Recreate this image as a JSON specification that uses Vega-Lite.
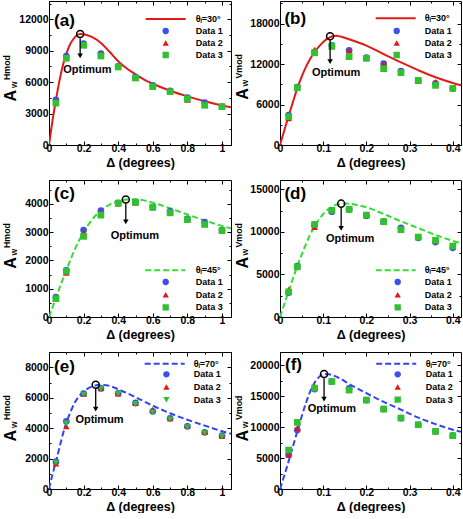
{
"$schema":"https://vega.github.io/schema/vega-lite/v6.json",
"padding":{"left":1,"top":0,"right":0,"bottom":0},
"columns":2,
"bounds":"flush",
"spacing":{"row":35,"column":49},
"resolve":{"scale":{"x":"independent","y":"independent","color":"independent","shape":"independent"},"legend":{"color":"independent","shape":"independent"}},
"config":{
 "font":"Liberation Sans",
 "view":{"stroke":"black","strokeWidth":1},
 "axis":{"grid":false,"domainColor":"black","tickColor":"black","labelColor":"black","titleColor":"black","labelFont":"Liberation Sans","titleFont":"Liberation Sans","labelFontSize":10.5,"labelFontWeight":"bold","titleFontWeight":"bold","tickSize":-4,"labelFlush":false,"labelOverlap":false},
 "axisX":{"titleFontSize":12.5,"titlePadding":2,"labelPadding":2.5},
 "axisY":{"labelPadding":5,"titleAngle":270,"titleAlign":"left","titleBaseline":"alphabetic"},
 "legend":{"labelFont":"Liberation Sans","labelColor":"black","padding":0,"title":null,"labelFontSize":9,"labelFontWeight":"bold","clipHeight":9},
 "text":{"font":"Liberation Sans"}
},
"concat":[
{
 "width":182,"height":144,
 "encoding":{"x":{"field":"x","type":"quantitative","scale":{"domain":[0,1.052],"nice":false,"zero":false},"axis":null}},
 "layer":[
  {"data":{"values":[{"x":0,"y":0,"c":"θᵢ=30°"},{"x":0.02,"y":2300,"c":"θᵢ=30°"},{"x":0.04,"y":4300,"c":"θᵢ=30°"},{"x":0.06,"y":6100,"c":"θᵢ=30°"},{"x":0.08,"y":7600,"c":"θᵢ=30°"},{"x":0.1,"y":8700,"c":"θᵢ=30°"},{"x":0.12,"y":9550,"c":"θᵢ=30°"},{"x":0.14,"y":10100,"c":"θᵢ=30°"},{"x":0.16,"y":10450,"c":"θᵢ=30°"},{"x":0.18,"y":10600,"c":"θᵢ=30°"},{"x":0.2,"y":10580,"c":"θᵢ=30°"},{"x":0.25,"y":10300,"c":"θᵢ=30°"},{"x":0.3,"y":9750,"c":"θᵢ=30°"},{"x":0.35,"y":8900,"c":"θᵢ=30°"},{"x":0.4,"y":8000,"c":"θᵢ=30°"},{"x":0.45,"y":7300,"c":"θᵢ=30°"},{"x":0.5,"y":6750,"c":"θᵢ=30°"},{"x":0.55,"y":6250,"c":"θᵢ=30°"},{"x":0.6,"y":5850,"c":"θᵢ=30°"},{"x":0.7,"y":5180,"c":"θᵢ=30°"},{"x":0.8,"y":4640,"c":"θᵢ=30°"},{"x":0.9,"y":4180,"c":"θᵢ=30°"},{"x":1.0,"y":3780,"c":"θᵢ=30°"},{"x":1.052,"y":3600,"c":"θᵢ=30°"}]},
   "mark":{"type":"line","strokeWidth":2,"interpolate":"monotone","clip":true},
   "encoding":{
    "x":{"field":"x","type":"quantitative","scale":{"domain":[0,1.052],"nice":false,"zero":false},"axis":{"orient":"bottom","title":"Δ (degrees)","values":[0,0.2,0.4,0.6,0.8,1],"format":"~g"}},
    "y":{"field":"y","type":"quantitative","scale":{"domain":[0,13750],"nice":false},"axis":{"orient":"left","title":"A","values":[0,3000,6000,9000,12000],"format":"d","titleFontSize":16,"titleX":-34,"titleY":100}},
    "color":{"field":"c","type":"nominal","scale":{"range":["#e31a1a"]},"legend":{"orient":"none","legendX":95.7,"legendY":13.5,"symbolType":"stroke","symbolSize":1600,"symbolStrokeWidth":2,"labelOffset":9}}}},
  {"data":{"values":[
   {"x":0.04,"y":4300,"s":"Data 1"},{"x":0.1,"y":8500,"s":"Data 1"},{"x":0.2,"y":9680,"s":"Data 1"},{"x":0.3,"y":8720,"s":"Data 1"},{"x":0.4,"y":7510,"s":"Data 1"},{"x":0.5,"y":6490,"s":"Data 1"},{"x":0.6,"y":5700,"s":"Data 1"},{"x":0.7,"y":5160,"s":"Data 1"},{"x":0.8,"y":4520,"s":"Data 1"},{"x":0.9,"y":4040,"s":"Data 1"},{"x":1.0,"y":3660,"s":"Data 1"},
   {"x":0.04,"y":4200,"s":"Data 2"},{"x":0.1,"y":8400,"s":"Data 2"},{"x":0.2,"y":9600,"s":"Data 2"},{"x":0.3,"y":8600,"s":"Data 2"},{"x":0.4,"y":7450,"s":"Data 2"},{"x":0.5,"y":6400,"s":"Data 2"},{"x":0.6,"y":5650,"s":"Data 2"},{"x":0.7,"y":5100,"s":"Data 2"},{"x":0.8,"y":4300,"s":"Data 2"},{"x":0.9,"y":3950,"s":"Data 2"},{"x":1.0,"y":3650,"s":"Data 2"},
   {"x":0.04,"y":4000,"s":"Data 3"},{"x":0.1,"y":8280,"s":"Data 3"},{"x":0.2,"y":9520,"s":"Data 3"},{"x":0.3,"y":8500,"s":"Data 3"},{"x":0.4,"y":7450,"s":"Data 3"},{"x":0.5,"y":6400,"s":"Data 3"},{"x":0.6,"y":5570,"s":"Data 3"},{"x":0.7,"y":5090,"s":"Data 3"},{"x":0.8,"y":4420,"s":"Data 3"},{"x":0.9,"y":3790,"s":"Data 3"},{"x":1.0,"y":3660,"s":"Data 3"}]},
   "mark":{"type":"point","filled":true,"size":45,"opacity":1},
   "encoding":{
    "y":{"field":"y","type":"quantitative","scale":{"domain":[0,13750],"nice":false},"axis":{"orient":"left","title":"w","labels":false,"ticks":false,"domain":false,"titleFontSize":8.5,"titleX":-33,"titleY":86.5}},
    "color":{"field":"s","type":"nominal","scale":{"domain":["Data 1","Data 2","Data 3"],"range":["#3c50f0","#dd1a1a","#30c030"]},"legend":{"orient":"none","legendX":112.2,"legendY":25.5,"symbolSize":40,"symbolStrokeWidth":0,"labelOffset":25.5,"rowPadding":2}},
    "shape":{"field":"s","type":"nominal","scale":{"domain":["Data 1","Data 2","Data 3"],"range":["circle","triangle-up","square"]},"legend":{"orient":"none","legendX":112.2,"legendY":25.5,"symbolSize":40,"symbolStrokeWidth":0,"labelOffset":25.5,"rowPadding":2}}}},
  {"data":{"values":[{"x":0.18,"y":10600}]},"mark":{"type":"point","shape":"circle","filled":false,"stroke":"black","strokeWidth":1.5,"size":50,"opacity":1},
   "encoding":{"y":{"field":"y","type":"quantitative","scale":{"domain":[0,13750],"nice":false},"axis":{"orient":"left","title":"Hmod","labels":false,"ticks":false,"domain":false,"titleFontSize":8.8,"titleX":-40,"titleY":78.5}}}},
  {"data":{"values":[{"x":0.18,"y":10200,"y2":8500}]},"mark":{"type":"rule","stroke":"black","strokeWidth":1.3},
   "encoding":{
    "x":{"field":"x","type":"quantitative","scale":{"domain":[0,1.052],"nice":false,"zero":false},"axis":{"orient":"bottom","values":[0.1,0.3,0.5,0.7,0.9],"labels":false,"title":null,"domain":false,"tickSize":-2}},
    "y":{"field":"y","type":"quantitative","scale":{"domain":[0,13750],"nice":false},"axis":{"orient":"right","values":[0,3000,6000,9000,12000],"labels":false,"title":null,"domain":false,"tickSize":-4}},"y2":{"field":"y2"}}},
  {"data":{"values":[{"x":0.18,"y":8500}]},"mark":{"type":"point","shape":"triangle-down","filled":true,"color":"black","size":30,"opacity":1},
   "encoding":{
    "x":{"field":"x","type":"quantitative","scale":{"domain":[0,1.052],"nice":false,"zero":false},"axis":{"orient":"top","values":[0,0.2,0.4,0.6,0.8,1],"labels":false,"title":null,"domain":false,"tickSize":-4}},
    "y":{"field":"y","type":"quantitative","scale":{"domain":[0,13750],"nice":false},"axis":{"orient":"right","values":[1500,4500,7500,10500,13500],"labels":false,"title":null,"domain":false,"tickSize":-2}}}},
  {"data":{"values":[{"x":0.222,"y":7160,"t":"Optimum"}]},"mark":{"type":"text","fontWeight":"bold","fontSize":11,"baseline":"middle"},
   "encoding":{
    "x":{"field":"x","type":"quantitative","scale":{"domain":[0,1.052],"nice":false,"zero":false},"axis":{"orient":"top","values":[0.1,0.3,0.5,0.7,0.9],"labels":false,"title":null,"domain":false,"tickSize":-2}},
    "y":{"field":"y","type":"quantitative","scale":{"domain":[0,13750],"nice":false},"axis":{"orient":"left","values":[1500,4500,7500,10500,13500],"labels":false,"title":null,"domain":false,"tickSize":-2}},"text":{"field":"t"}}},
  {"data":{"values":[{"x":0.029,"y":11840,"t":"(a)"}]},"mark":{"type":"text","fontWeight":"bold","fontSize":17,"align":"left","baseline":"middle"},"encoding":{"y":{"field":"y","type":"quantitative","scale":{"domain":[0,13750],"nice":false},"axis":null},"text":{"field":"t"}}}
 ],
 "resolve":{"scale":{"color":"independent","shape":"independent"},"axis":{"x":"independent","y":"independent"}}
},
{
 "width":181,"height":144,
 "encoding":{"x":{"field":"x","type":"quantitative","scale":{"domain":[0,0.419],"nice":false,"zero":false},"axis":null}},
 "layer":[
  {"data":{"values":[{"x":0,"y":0,"c":"θᵢ=30°"},{"x":0.01,"y":2200,"c":"θᵢ=30°"},{"x":0.02,"y":4300,"c":"θᵢ=30°"},{"x":0.03,"y":6400,"c":"θᵢ=30°"},{"x":0.04,"y":8400,"c":"θᵢ=30°"},{"x":0.05,"y":10100,"c":"θᵢ=30°"},{"x":0.06,"y":11600,"c":"θᵢ=30°"},{"x":0.07,"y":12800,"c":"θᵢ=30°"},{"x":0.08,"y":13800,"c":"θᵢ=30°"},{"x":0.09,"y":14600,"c":"θᵢ=30°"},{"x":0.1,"y":15300,"c":"θᵢ=30°"},{"x":0.11,"y":15800,"c":"θᵢ=30°"},{"x":0.12,"y":16100,"c":"θᵢ=30°"},{"x":0.13,"y":16200,"c":"θᵢ=30°"},{"x":0.14,"y":16100,"c":"θᵢ=30°"},{"x":0.16,"y":15700,"c":"θᵢ=30°"},{"x":0.18,"y":15250,"c":"θᵢ=30°"},{"x":0.2,"y":14750,"c":"θᵢ=30°"},{"x":0.24,"y":13500,"c":"θᵢ=30°"},{"x":0.28,"y":12250,"c":"θᵢ=30°"},{"x":0.32,"y":11100,"c":"θᵢ=30°"},{"x":0.36,"y":10050,"c":"θᵢ=30°"},{"x":0.4,"y":9200,"c":"θᵢ=30°"},{"x":0.419,"y":8850,"c":"θᵢ=30°"}]},
   "mark":{"type":"line","strokeWidth":2,"interpolate":"monotone","clip":true},
   "encoding":{
    "x":{"field":"x","type":"quantitative","scale":{"domain":[0,0.419],"nice":false,"zero":false},"axis":{"orient":"bottom","title":"Δ (degrees)","values":[0,0.1,0.2,0.3,0.4],"format":"~g"}},
    "y":{"field":"y","type":"quantitative","scale":{"domain":[0,21370],"nice":false},"axis":{"orient":"left","title":"A","values":[0,6000,12000,18000],"format":"d","titleFontSize":16,"titleX":-32.8,"titleY":98.3}},
    "color":{"field":"c","type":"nominal","scale":{"range":["#e31a1a"]},"legend":{"orient":"none","legendX":94.7,"legendY":12.8,"symbolType":"stroke","symbolSize":1600,"symbolStrokeWidth":2,"labelOffset":8}}}},
  {"data":{"values":[
   {"x":0.02,"y":4450,"s":"Data 1"},{"x":0.04,"y":8600,"s":"Data 1"},{"x":0.08,"y":13800,"s":"Data 1"},{"x":0.12,"y":14790,"s":"Data 1"},{"x":0.16,"y":14050,"s":"Data 1"},{"x":0.2,"y":12960,"s":"Data 1"},{"x":0.24,"y":12070,"s":"Data 1"},{"x":0.28,"y":10980,"s":"Data 1"},{"x":0.32,"y":9590,"s":"Data 1"},{"x":0.36,"y":9150,"s":"Data 1"},{"x":0.4,"y":8410,"s":"Data 1"},
   {"x":0.02,"y":3960,"s":"Data 2"},{"x":0.04,"y":8600,"s":"Data 2"},{"x":0.08,"y":14140,"s":"Data 2"},{"x":0.12,"y":14600,"s":"Data 2"},{"x":0.16,"y":14050,"s":"Data 2"},{"x":0.2,"y":12900,"s":"Data 2"},{"x":0.24,"y":12070,"s":"Data 2"},{"x":0.28,"y":10900,"s":"Data 2"},{"x":0.32,"y":9500,"s":"Data 2"},{"x":0.36,"y":9350,"s":"Data 2"},{"x":0.4,"y":8400,"s":"Data 2"},
   {"x":0.02,"y":4200,"s":"Data 3"},{"x":0.04,"y":8500,"s":"Data 3"},{"x":0.08,"y":13700,"s":"Data 3"},{"x":0.12,"y":14690,"s":"Data 3"},{"x":0.16,"y":13110,"s":"Data 3"},{"x":0.2,"y":12860,"s":"Data 3"},{"x":0.24,"y":11330,"s":"Data 3"},{"x":0.28,"y":10730,"s":"Data 3"},{"x":0.32,"y":9590,"s":"Data 3"},{"x":0.36,"y":8850,"s":"Data 3"},{"x":0.4,"y":8410,"s":"Data 3"}]},
   "mark":{"type":"point","filled":true,"size":45,"opacity":1},
   "encoding":{
    "y":{"field":"y","type":"quantitative","scale":{"domain":[0,21370],"nice":false},"axis":{"orient":"left","title":"w","labels":false,"ticks":false,"domain":false,"titleFontSize":8.5,"titleX":-32.3,"titleY":85}},
    "color":{"field":"s","type":"nominal","scale":{"domain":["Data 1","Data 2","Data 3"],"range":["#3c50f0","#dd1a1a","#30c030"]},"legend":{"orient":"none","legendX":112.2,"legendY":25.5,"symbolSize":40,"symbolStrokeWidth":0,"labelOffset":23.5,"rowPadding":2}},
    "shape":{"field":"s","type":"nominal","scale":{"domain":["Data 1","Data 2","Data 3"],"range":["circle","triangle-up","square"]},"legend":{"orient":"none","legendX":112.2,"legendY":25.5,"symbolSize":40,"symbolStrokeWidth":0,"labelOffset":23.5,"rowPadding":2}}}},
  {"data":{"values":[{"x":0.116,"y":16130}]},"mark":{"type":"point","shape":"circle","filled":false,"stroke":"black","strokeWidth":1.5,"size":50,"opacity":1},
   "encoding":{"y":{"field":"y","type":"quantitative","scale":{"domain":[0,21370],"nice":false},"axis":{"orient":"left","title":"Vmod","labels":false,"ticks":false,"domain":false,"titleFontSize":8.8,"titleX":-38.8,"titleY":77}}}},
  {"data":{"values":[{"x":0.116,"y":15600,"y2":12390}]},"mark":{"type":"rule","stroke":"black","strokeWidth":1.3},
   "encoding":{
    "x":{"field":"x","type":"quantitative","scale":{"domain":[0,0.419],"nice":false,"zero":false},"axis":{"orient":"bottom","values":[0.05,0.15,0.25,0.35],"labels":false,"title":null,"domain":false,"tickSize":-2}},
    "y":{"field":"y","type":"quantitative","scale":{"domain":[0,21370],"nice":false},"axis":{"orient":"right","values":[0,6000,12000,18000],"labels":false,"title":null,"domain":false,"tickSize":-4}},"y2":{"field":"y2"}}},
  {"data":{"values":[{"x":0.116,"y":12390}]},"mark":{"type":"point","shape":"triangle-down","filled":true,"color":"black","size":30,"opacity":1},
   "encoding":{
    "x":{"field":"x","type":"quantitative","scale":{"domain":[0,0.419],"nice":false,"zero":false},"axis":{"orient":"top","values":[0,0.1,0.2,0.3,0.4],"labels":false,"title":null,"domain":false,"tickSize":-4}},
    "y":{"field":"y","type":"quantitative","scale":{"domain":[0,21370],"nice":false},"axis":{"orient":"right","values":[3000,9000,15000,21000],"labels":false,"title":null,"domain":false,"tickSize":-2}}}},
  {"data":{"values":[{"x":0.1297,"y":10730,"t":"Optimum"}]},"mark":{"type":"text","fontWeight":"bold","fontSize":11,"baseline":"middle"},
   "encoding":{
    "x":{"field":"x","type":"quantitative","scale":{"domain":[0,0.419],"nice":false,"zero":false},"axis":{"orient":"top","values":[0.05,0.15,0.25,0.35],"labels":false,"title":null,"domain":false,"tickSize":-2}},
    "y":{"field":"y","type":"quantitative","scale":{"domain":[0,21370],"nice":false},"axis":{"orient":"left","values":[3000,9000,15000,21000],"labels":false,"title":null,"domain":false,"tickSize":-2}},"text":{"field":"t"}}},
  {"data":{"values":[{"x":0.0102,"y":18650,"t":"(b)"}]},"mark":{"type":"text","fontWeight":"bold","fontSize":17,"align":"left","baseline":"middle"},"encoding":{"y":{"field":"y","type":"quantitative","scale":{"domain":[0,21370],"nice":false},"axis":null},"text":{"field":"t"}}}
 ],
 "resolve":{"scale":{"color":"independent","shape":"independent"},"axis":{"x":"independent","y":"independent"}}
},
{
 "width":182,"height":137,
 "encoding":{"x":{"field":"x","type":"quantitative","scale":{"domain":[0,1.052],"nice":false,"zero":false},"axis":null}},
 "layer":[
  {"data":{"values":[{"x":0,"y":0,"c":"θᵢ=45°"},{"x":0.02,"y":330,"c":"θᵢ=45°"},{"x":0.04,"y":680,"c":"θᵢ=45°"},{"x":0.07,"y":1180,"c":"θᵢ=45°"},{"x":0.1,"y":1650,"c":"θᵢ=45°"},{"x":0.15,"y":2400,"c":"θᵢ=45°"},{"x":0.2,"y":3000,"c":"θᵢ=45°"},{"x":0.25,"y":3450,"c":"θᵢ=45°"},{"x":0.3,"y":3760,"c":"θᵢ=45°"},{"x":0.35,"y":3970,"c":"θᵢ=45°"},{"x":0.4,"y":4090,"c":"θᵢ=45°"},{"x":0.45,"y":4150,"c":"θᵢ=45°"},{"x":0.5,"y":4160,"c":"θᵢ=45°"},{"x":0.55,"y":4120,"c":"θᵢ=45°"},{"x":0.6,"y":4040,"c":"θᵢ=45°"},{"x":0.7,"y":3840,"c":"θᵢ=45°"},{"x":0.8,"y":3620,"c":"θᵢ=45°"},{"x":0.9,"y":3410,"c":"θᵢ=45°"},{"x":1.0,"y":3220,"c":"θᵢ=45°"},{"x":1.052,"y":3130,"c":"θᵢ=45°"}]},
   "mark":{"type":"line","strokeWidth":2,"strokeDash":[6,3],"interpolate":"monotone","clip":true},
   "encoding":{
    "x":{"field":"x","type":"quantitative","scale":{"domain":[0,1.052],"nice":false,"zero":false},"axis":{"orient":"bottom","title":"Δ (degrees)","values":[0,0.2,0.4,0.6,0.8,1],"format":"~g"}},
    "y":{"field":"y","type":"quantitative","scale":{"domain":[0,4840],"nice":false},"axis":{"orient":"left","title":"A","values":[0,1000,2000,3000,4000],"format":"d","titleFontSize":16,"titleX":-34,"titleY":88.3}},
    "color":{"field":"c","type":"nominal","scale":{"range":["#33dd33"]},"legend":{"orient":"none","legendX":95.2,"legendY":85.8,"symbolType":"stroke","symbolSize":1600,"symbolStrokeWidth":2,"symbolDash":[6,3],"labelOffset":9.5}}}},
  {"data":{"values":[
   {"x":0.04,"y":700,"s":"Data 1"},{"x":0.1,"y":1650,"s":"Data 1"},{"x":0.2,"y":3070,"s":"Data 1"},{"x":0.3,"y":3760,"s":"Data 1"},{"x":0.4,"y":4030,"s":"Data 1"},{"x":0.5,"y":4060,"s":"Data 1"},{"x":0.6,"y":3880,"s":"Data 1"},{"x":0.7,"y":3730,"s":"Data 1"},{"x":0.8,"y":3470,"s":"Data 1"},{"x":0.9,"y":3350,"s":"Data 1"},{"x":1.0,"y":3070,"s":"Data 1"},
   {"x":0.04,"y":680,"s":"Data 2"},{"x":0.1,"y":1560,"s":"Data 2"},{"x":0.2,"y":2980,"s":"Data 2"},{"x":0.3,"y":3700,"s":"Data 2"},{"x":0.4,"y":4010,"s":"Data 2"},{"x":0.5,"y":4040,"s":"Data 2"},{"x":0.6,"y":3870,"s":"Data 2"},{"x":0.7,"y":3700,"s":"Data 2"},{"x":0.8,"y":3450,"s":"Data 2"},{"x":0.9,"y":3300,"s":"Data 2"},{"x":1.0,"y":3060,"s":"Data 2"},
   {"x":0.04,"y":650,"s":"Data 3"},{"x":0.1,"y":1620,"s":"Data 3"},{"x":0.2,"y":2850,"s":"Data 3"},{"x":0.3,"y":3600,"s":"Data 3"},{"x":0.4,"y":4020,"s":"Data 3"},{"x":0.5,"y":4050,"s":"Data 3"},{"x":0.6,"y":3880,"s":"Data 3"},{"x":0.7,"y":3680,"s":"Data 3"},{"x":0.8,"y":3440,"s":"Data 3"},{"x":0.9,"y":3270,"s":"Data 3"},{"x":1.0,"y":3050,"s":"Data 3"}]},
   "mark":{"type":"point","filled":true,"size":45,"opacity":1},
   "encoding":{
    "y":{"field":"y","type":"quantitative","scale":{"domain":[0,4840],"nice":false},"axis":{"orient":"left","title":"w","labels":false,"ticks":false,"domain":false,"titleFontSize":8.5,"titleX":-33,"titleY":75}},
    "color":{"field":"s","type":"nominal","scale":{"domain":["Data 1","Data 2","Data 3"],"range":["#3c50f0","#dd1a1a","#30c030"]},"legend":{"orient":"none","legendX":112.2,"legendY":97.5,"symbolSize":40,"symbolStrokeWidth":0,"labelOffset":25.5,"rowPadding":2.7}},
    "shape":{"field":"s","type":"nominal","scale":{"domain":["Data 1","Data 2","Data 3"],"range":["circle","triangle-up","square"]},"legend":{"orient":"none","legendX":112.2,"legendY":97.5,"symbolSize":40,"symbolStrokeWidth":0,"labelOffset":25.5,"rowPadding":2.7}}}},
  {"data":{"values":[{"x":0.444,"y":4150}]},"mark":{"type":"point","shape":"circle","filled":false,"stroke":"black","strokeWidth":1.5,"size":50,"opacity":1},
   "encoding":{"y":{"field":"y","type":"quantitative","scale":{"domain":[0,4840],"nice":false},"axis":{"orient":"left","title":"Hmod","labels":false,"ticks":false,"domain":false,"titleFontSize":8.8,"titleX":-40,"titleY":67.5}}}},
  {"data":{"values":[{"x":0.444,"y":4010,"y2":3360}]},"mark":{"type":"rule","stroke":"black","strokeWidth":1.3},
   "encoding":{
    "x":{"field":"x","type":"quantitative","scale":{"domain":[0,1.052],"nice":false,"zero":false},"axis":{"orient":"bottom","values":[0.1,0.3,0.5,0.7,0.9],"labels":false,"title":null,"domain":false,"tickSize":-2}},
    "y":{"field":"y","type":"quantitative","scale":{"domain":[0,4840],"nice":false},"axis":{"orient":"right","values":[0,1000,2000,3000,4000],"labels":false,"title":null,"domain":false,"tickSize":-4}},"y2":{"field":"y2"}}},
  {"data":{"values":[{"x":0.444,"y":3360}]},"mark":{"type":"point","shape":"triangle-down","filled":true,"color":"black","size":30,"opacity":1},
   "encoding":{
    "x":{"field":"x","type":"quantitative","scale":{"domain":[0,1.052],"nice":false,"zero":false},"axis":{"orient":"top","values":[0,0.2,0.4,0.6,0.8,1],"labels":false,"title":null,"domain":false,"tickSize":-4}},
    "y":{"field":"y","type":"quantitative","scale":{"domain":[0,4840],"nice":false},"axis":{"orient":"right","values":[500,1500,2500,3500,4500],"labels":false,"title":null,"domain":false,"tickSize":-2}}}},
  {"data":{"values":[{"x":0.496,"y":2854,"t":"Optimum"}]},"mark":{"type":"text","fontWeight":"bold","fontSize":11,"baseline":"middle"},
   "encoding":{
    "x":{"field":"x","type":"quantitative","scale":{"domain":[0,1.052],"nice":false,"zero":false},"axis":{"orient":"top","values":[0.1,0.3,0.5,0.7,0.9],"labels":false,"title":null,"domain":false,"tickSize":-2}},
    "y":{"field":"y","type":"quantitative","scale":{"domain":[0,4840],"nice":false},"axis":{"orient":"left","values":[500,1500,2500,3500,4500],"labels":false,"title":null,"domain":false,"tickSize":-2}},"text":{"field":"t"}}},
  {"data":{"values":[{"x":0.029,"y":4330,"t":"(c)"}]},"mark":{"type":"text","fontWeight":"bold","fontSize":17,"align":"left","baseline":"middle"},"encoding":{"y":{"field":"y","type":"quantitative","scale":{"domain":[0,4840],"nice":false},"axis":null},"text":{"field":"t"}}}
 ],
 "resolve":{"scale":{"color":"independent","shape":"independent"},"axis":{"x":"independent","y":"independent"}}
},
{
 "width":181,"height":137,
 "encoding":{"x":{"field":"x","type":"quantitative","scale":{"domain":[0,0.419],"nice":false,"zero":false},"axis":null}},
 "layer":[
  {"data":{"values":[{"x":0,"y":0,"c":"θᵢ=45°"},{"x":0.01,"y":1500,"c":"θᵢ=45°"},{"x":0.02,"y":3050,"c":"θᵢ=45°"},{"x":0.03,"y":4550,"c":"θᵢ=45°"},{"x":0.04,"y":5950,"c":"θᵢ=45°"},{"x":0.05,"y":7300,"c":"θᵢ=45°"},{"x":0.06,"y":8550,"c":"θᵢ=45°"},{"x":0.07,"y":9700,"c":"θᵢ=45°"},{"x":0.08,"y":10650,"c":"θᵢ=45°"},{"x":0.09,"y":11450,"c":"θᵢ=45°"},{"x":0.1,"y":12100,"c":"θᵢ=45°"},{"x":0.11,"y":12600,"c":"θᵢ=45°"},{"x":0.12,"y":12950,"c":"θᵢ=45°"},{"x":0.13,"y":13200,"c":"θᵢ=45°"},{"x":0.14,"y":13300,"c":"θᵢ=45°"},{"x":0.15,"y":13330,"c":"θᵢ=45°"},{"x":0.16,"y":13300,"c":"θᵢ=45°"},{"x":0.18,"y":13150,"c":"θᵢ=45°"},{"x":0.2,"y":12900,"c":"θᵢ=45°"},{"x":0.24,"y":12100,"c":"θᵢ=45°"},{"x":0.28,"y":11250,"c":"θᵢ=45°"},{"x":0.32,"y":10450,"c":"θᵢ=45°"},{"x":0.36,"y":9650,"c":"θᵢ=45°"},{"x":0.4,"y":8950,"c":"θᵢ=45°"},{"x":0.419,"y":8650,"c":"θᵢ=45°"}]},
   "mark":{"type":"line","strokeWidth":2,"strokeDash":[6,3],"interpolate":"monotone","clip":true},
   "encoding":{
    "x":{"field":"x","type":"quantitative","scale":{"domain":[0,0.419],"nice":false,"zero":false},"axis":{"orient":"bottom","title":"Δ (degrees)","values":[0,0.1,0.2,0.3,0.4],"format":"~g"}},
    "y":{"field":"y","type":"quantitative","scale":{"domain":[0,16100],"nice":false},"axis":{"orient":"left","title":"A","values":[0,5000,10000,15000],"format":"d","titleFontSize":16,"titleX":-32.8,"titleY":88}},
    "color":{"field":"c","type":"nominal","scale":{"range":["#33dd33"]},"legend":{"orient":"none","legendX":94.7,"legendY":85.8,"symbolType":"stroke","symbolSize":1600,"symbolStrokeWidth":2,"symbolDash":[6,3],"labelOffset":8}}}},
  {"data":{"values":[
   {"x":0.02,"y":2870,"s":"Data 1"},{"x":0.04,"y":5970,"s":"Data 1"},{"x":0.08,"y":10800,"s":"Data 1"},{"x":0.12,"y":12380,"s":"Data 1"},{"x":0.16,"y":12650,"s":"Data 1"},{"x":0.2,"y":11900,"s":"Data 1"},{"x":0.24,"y":11200,"s":"Data 1"},{"x":0.28,"y":10490,"s":"Data 1"},{"x":0.32,"y":9310,"s":"Data 1"},{"x":0.36,"y":8800,"s":"Data 1"},{"x":0.4,"y":8130,"s":"Data 1"},
   {"x":0.02,"y":3220,"s":"Data 2"},{"x":0.04,"y":6000,"s":"Data 2"},{"x":0.08,"y":10570,"s":"Data 2"},{"x":0.12,"y":12500,"s":"Data 2"},{"x":0.16,"y":12650,"s":"Data 2"},{"x":0.2,"y":11950,"s":"Data 2"},{"x":0.24,"y":11250,"s":"Data 2"},{"x":0.28,"y":10400,"s":"Data 2"},{"x":0.32,"y":9470,"s":"Data 2"},{"x":0.36,"y":8920,"s":"Data 2"},{"x":0.4,"y":8330,"s":"Data 2"},
   {"x":0.02,"y":2950,"s":"Data 3"},{"x":0.04,"y":5890,"s":"Data 3"},{"x":0.08,"y":10880,"s":"Data 3"},{"x":0.12,"y":12530,"s":"Data 3"},{"x":0.16,"y":12650,"s":"Data 3"},{"x":0.2,"y":11980,"s":"Data 3"},{"x":0.24,"y":11200,"s":"Data 3"},{"x":0.28,"y":10260,"s":"Data 3"},{"x":0.32,"y":9390,"s":"Data 3"},{"x":0.36,"y":9000,"s":"Data 3"},{"x":0.4,"y":8330,"s":"Data 3"}]},
   "mark":{"type":"point","filled":true,"size":45,"opacity":1},
   "encoding":{
    "y":{"field":"y","type":"quantitative","scale":{"domain":[0,16100],"nice":false},"axis":{"orient":"left","title":"w","labels":false,"ticks":false,"domain":false,"titleFontSize":8.5,"titleX":-32.3,"titleY":75}},
    "color":{"field":"s","type":"nominal","scale":{"domain":["Data 1","Data 2","Data 3"],"range":["#3c50f0","#dd1a1a","#30c030"]},"legend":{"orient":"none","legendX":113.2,"legendY":97.5,"symbolSize":40,"symbolStrokeWidth":0,"labelOffset":22.5,"rowPadding":2.7}},
    "shape":{"field":"s","type":"nominal","scale":{"domain":["Data 1","Data 2","Data 3"],"range":["circle","triangle-up","square"]},"legend":{"orient":"none","legendX":113.2,"legendY":97.5,"symbolSize":40,"symbolStrokeWidth":0,"labelOffset":22.5,"rowPadding":2.7}}}},
  {"data":{"values":[{"x":0.1416,"y":13320}]},"mark":{"type":"point","shape":"circle","filled":false,"stroke":"black","strokeWidth":1.5,"size":50,"opacity":1},
   "encoding":{"y":{"field":"y","type":"quantitative","scale":{"domain":[0,16100],"nice":false},"axis":{"orient":"left","title":"Vmod","labels":false,"ticks":false,"domain":false,"titleFontSize":8.8,"titleX":-38.8,"titleY":67}}}},
  {"data":{"values":[{"x":0.1416,"y":12850,"y2":10410}]},"mark":{"type":"rule","stroke":"black","strokeWidth":1.3},
   "encoding":{
    "x":{"field":"x","type":"quantitative","scale":{"domain":[0,0.419],"nice":false,"zero":false},"axis":{"orient":"bottom","values":[0.05,0.15,0.25,0.35],"labels":false,"title":null,"domain":false,"tickSize":-2}},
    "y":{"field":"y","type":"quantitative","scale":{"domain":[0,16100],"nice":false},"axis":{"orient":"right","values":[0,5000,10000,15000],"labels":false,"title":null,"domain":false,"tickSize":-4}},"y2":{"field":"y2"}}},
  {"data":{"values":[{"x":0.1416,"y":10410}]},"mark":{"type":"point","shape":"triangle-down","filled":true,"color":"black","size":30,"opacity":1},
   "encoding":{
    "x":{"field":"x","type":"quantitative","scale":{"domain":[0,0.419],"nice":false,"zero":false},"axis":{"orient":"top","values":[0,0.1,0.2,0.3,0.4],"labels":false,"title":null,"domain":false,"tickSize":-4}},
    "y":{"field":"y","type":"quantitative","scale":{"domain":[0,16100],"nice":false},"axis":{"orient":"right","values":[2500,7500,12500],"labels":false,"title":null,"domain":false,"tickSize":-2}}}},
  {"data":{"values":[{"x":0.1625,"y":9190,"t":"Optimum"}]},"mark":{"type":"text","fontWeight":"bold","fontSize":11,"baseline":"middle"},
   "encoding":{
    "x":{"field":"x","type":"quantitative","scale":{"domain":[0,0.419],"nice":false,"zero":false},"axis":{"orient":"top","values":[0.05,0.15,0.25,0.35],"labels":false,"title":null,"domain":false,"tickSize":-2}},
    "y":{"field":"y","type":"quantitative","scale":{"domain":[0,16100],"nice":false},"axis":{"orient":"left","values":[2500,7500,12500],"labels":false,"title":null,"domain":false,"tickSize":-2}},"text":{"field":"t"}}},
  {"data":{"values":[{"x":0.0102,"y":14420,"t":"(d)"}]},"mark":{"type":"text","fontWeight":"bold","fontSize":17,"align":"left","baseline":"middle"},"encoding":{"y":{"field":"y","type":"quantitative","scale":{"domain":[0,16100],"nice":false},"axis":null},"text":{"field":"t"}}}
 ],
 "resolve":{"scale":{"color":"independent","shape":"independent"},"axis":{"x":"independent","y":"independent"}}
},
{
 "width":182,"height":137,
 "encoding":{"x":{"field":"x","type":"quantitative","scale":{"domain":[0,1.052],"nice":false,"zero":false},"axis":null}},
 "layer":[
  {"data":{"values":[{"x":0,"y":0,"c":"θᵢ=70°"},{"x":0.02,"y":950,"c":"θᵢ=70°"},{"x":0.04,"y":1800,"c":"θᵢ=70°"},{"x":0.06,"y":2700,"c":"θᵢ=70°"},{"x":0.08,"y":3600,"c":"θᵢ=70°"},{"x":0.1,"y":4350,"c":"θᵢ=70°"},{"x":0.12,"y":4950,"c":"θᵢ=70°"},{"x":0.15,"y":5700,"c":"θᵢ=70°"},{"x":0.2,"y":6400,"c":"θᵢ=70°"},{"x":0.25,"y":6750,"c":"θᵢ=70°"},{"x":0.3,"y":6850,"c":"θᵢ=70°"},{"x":0.35,"y":6780,"c":"θᵢ=70°"},{"x":0.4,"y":6560,"c":"θᵢ=70°"},{"x":0.5,"y":6040,"c":"θᵢ=70°"},{"x":0.6,"y":5480,"c":"θᵢ=70°"},{"x":0.7,"y":4980,"c":"θᵢ=70°"},{"x":0.8,"y":4550,"c":"θᵢ=70°"},{"x":0.9,"y":4170,"c":"θᵢ=70°"},{"x":1.0,"y":3800,"c":"θᵢ=70°"},{"x":1.052,"y":3630,"c":"θᵢ=70°"}]},
   "mark":{"type":"line","strokeWidth":2,"strokeDash":[6,3],"interpolate":"monotone","clip":true},
   "encoding":{
    "x":{"field":"x","type":"quantitative","scale":{"domain":[0,1.052],"nice":false,"zero":false},"axis":{"orient":"bottom","title":"Δ (degrees)","values":[0,0.2,0.4,0.6,0.8,1],"format":"~g"}},
    "y":{"field":"y","type":"quantitative","scale":{"domain":[0,9010],"nice":false},"axis":{"orient":"left","title":"A","values":[0,2000,4000,6000,8000],"format":"d","titleFontSize":16,"titleX":-34,"titleY":89}},
    "color":{"field":"c","type":"nominal","scale":{"range":["#3344ee"]},"legend":{"orient":"none","legendX":94.7,"legendY":7.2,"symbolType":"stroke","symbolSize":1600,"symbolStrokeWidth":2,"symbolDash":[6,3],"labelOffset":8}}}},
  {"data":{"values":[
   {"x":0.04,"y":1800,"s":"Data 1"},{"x":0.1,"y":4450,"s":"Data 1"},{"x":0.2,"y":6270,"s":"Data 1"},{"x":0.3,"y":6620,"s":"Data 1"},{"x":0.4,"y":6290,"s":"Data 1"},{"x":0.5,"y":5660,"s":"Data 1"},{"x":0.6,"y":5110,"s":"Data 1"},{"x":0.7,"y":4650,"s":"Data 1"},{"x":0.8,"y":4120,"s":"Data 1"},{"x":0.9,"y":3730,"s":"Data 1"},{"x":1.0,"y":3510,"s":"Data 1"},
   {"x":0.04,"y":1670,"s":"Data 2"},{"x":0.1,"y":4120,"s":"Data 2"},{"x":0.2,"y":6250,"s":"Data 2"},{"x":0.3,"y":6620,"s":"Data 2"},{"x":0.4,"y":6270,"s":"Data 2"},{"x":0.5,"y":5650,"s":"Data 2"},{"x":0.6,"y":5220,"s":"Data 2"},{"x":0.7,"y":4650,"s":"Data 2"},{"x":0.8,"y":4170,"s":"Data 2"},{"x":0.9,"y":3750,"s":"Data 2"},{"x":1.0,"y":3500,"s":"Data 2"},
   {"x":0.04,"y":1730,"s":"Data 3"},{"x":0.1,"y":4320,"s":"Data 3"},{"x":0.2,"y":6210,"s":"Data 3"},{"x":0.3,"y":6600,"s":"Data 3"},{"x":0.4,"y":6250,"s":"Data 3"},{"x":0.5,"y":5590,"s":"Data 3"},{"x":0.6,"y":5040,"s":"Data 3"},{"x":0.7,"y":4580,"s":"Data 3"},{"x":0.8,"y":4060,"s":"Data 3"},{"x":0.9,"y":3680,"s":"Data 3"},{"x":1.0,"y":3460,"s":"Data 3"}]},
   "mark":{"type":"point","filled":true,"size":45,"opacity":1},
   "encoding":{
    "y":{"field":"y","type":"quantitative","scale":{"domain":[0,9010],"nice":false},"axis":{"orient":"left","title":"w","labels":false,"ticks":false,"domain":false,"titleFontSize":8.5,"titleX":-33,"titleY":75.5}},
    "color":{"field":"s","type":"nominal","scale":{"domain":["Data 1","Data 2","Data 3"],"range":["#3c50f0","#dd1a1a","#30c030"]},"legend":{"orient":"none","legendX":112.9,"legendY":17.8,"symbolSize":40,"symbolStrokeWidth":0,"labelOffset":22.8,"rowPadding":2.7}},
    "shape":{"field":"s","type":"nominal","scale":{"domain":["Data 1","Data 2","Data 3"],"range":["circle","triangle-up","triangle-down"]},"legend":{"orient":"none","legendX":112.9,"legendY":17.8,"symbolSize":40,"symbolStrokeWidth":0,"labelOffset":22.8,"rowPadding":2.7}}}},
  {"data":{"values":[{"x":0.27,"y":6860}]},"mark":{"type":"point","shape":"circle","filled":false,"stroke":"black","strokeWidth":1.5,"size":50,"opacity":1},
   "encoding":{"y":{"field":"y","type":"quantitative","scale":{"domain":[0,9010],"nice":false},"axis":{"orient":"left","title":"Hmod","labels":false,"ticks":false,"domain":false,"titleFontSize":8.8,"titleX":-40,"titleY":67.5}}}},
  {"data":{"values":[{"x":0.27,"y":6600,"y2":5260}]},"mark":{"type":"rule","stroke":"black","strokeWidth":1.3},
   "encoding":{
    "x":{"field":"x","type":"quantitative","scale":{"domain":[0,1.052],"nice":false,"zero":false},"axis":{"orient":"bottom","values":[0.1,0.3,0.5,0.7,0.9],"labels":false,"title":null,"domain":false,"tickSize":-2}},
    "y":{"field":"y","type":"quantitative","scale":{"domain":[0,9010],"nice":false},"axis":{"orient":"right","values":[0,2000,4000,6000,8000],"labels":false,"title":null,"domain":false,"tickSize":-4}},"y2":{"field":"y2"}}},
  {"data":{"values":[{"x":0.27,"y":5260}]},"mark":{"type":"point","shape":"triangle-down","filled":true,"color":"black","size":30,"opacity":1},
   "encoding":{
    "x":{"field":"x","type":"quantitative","scale":{"domain":[0,1.052],"nice":false,"zero":false},"axis":{"orient":"top","values":[0,0.2,0.4,0.6,0.8,1],"labels":false,"title":null,"domain":false,"tickSize":-4}},
    "y":{"field":"y","type":"quantitative","scale":{"domain":[0,9010],"nice":false},"axis":{"orient":"right","values":[1000,3000,5000,7000,9000],"labels":false,"title":null,"domain":false,"tickSize":-2}}}},
  {"data":{"values":[{"x":0.292,"y":4560,"t":"Optimum"}]},"mark":{"type":"text","fontWeight":"bold","fontSize":11,"baseline":"middle"},
   "encoding":{
    "x":{"field":"x","type":"quantitative","scale":{"domain":[0,1.052],"nice":false,"zero":false},"axis":{"orient":"top","values":[0.1,0.3,0.5,0.7,0.9],"labels":false,"title":null,"domain":false,"tickSize":-2}},
    "y":{"field":"y","type":"quantitative","scale":{"domain":[0,9010],"nice":false},"axis":{"orient":"left","values":[1000,3000,5000,7000,9000],"labels":false,"title":null,"domain":false,"tickSize":-2}},"text":{"field":"t"}}},
  {"data":{"values":[{"x":0.029,"y":8000,"t":"(e)"}]},"mark":{"type":"text","fontWeight":"bold","fontSize":17,"align":"left","baseline":"middle"},"encoding":{"y":{"field":"y","type":"quantitative","scale":{"domain":[0,9010],"nice":false},"axis":null},"text":{"field":"t"}}}
 ],
 "resolve":{"scale":{"color":"independent","shape":"independent"},"axis":{"x":"independent","y":"independent"}}
},
{
 "width":181,"height":137,
 "encoding":{"x":{"field":"x","type":"quantitative","scale":{"domain":[0,0.419],"nice":false,"zero":false},"axis":null}},
 "layer":[
  {"data":{"values":[{"x":0,"y":0,"c":"θᵢ=70°"},{"x":0.01,"y":2200,"c":"θᵢ=70°"},{"x":0.02,"y":4500,"c":"θᵢ=70°"},{"x":0.03,"y":6900,"c":"θᵢ=70°"},{"x":0.04,"y":9300,"c":"θᵢ=70°"},{"x":0.05,"y":11700,"c":"θᵢ=70°"},{"x":0.06,"y":13900,"c":"θᵢ=70°"},{"x":0.07,"y":15800,"c":"θᵢ=70°"},{"x":0.08,"y":17200,"c":"θᵢ=70°"},{"x":0.09,"y":18100,"c":"θᵢ=70°"},{"x":0.1,"y":18550,"c":"θᵢ=70°"},{"x":0.11,"y":18600,"c":"θᵢ=70°"},{"x":0.12,"y":18450,"c":"θᵢ=70°"},{"x":0.14,"y":17850,"c":"θᵢ=70°"},{"x":0.16,"y":17000,"c":"θᵢ=70°"},{"x":0.2,"y":15500,"c":"θᵢ=70°"},{"x":0.24,"y":14100,"c":"θᵢ=70°"},{"x":0.28,"y":12850,"c":"θᵢ=70°"},{"x":0.32,"y":11550,"c":"θᵢ=70°"},{"x":0.36,"y":10500,"c":"θᵢ=70°"},{"x":0.4,"y":9600,"c":"θᵢ=70°"},{"x":0.419,"y":9250,"c":"θᵢ=70°"}]},
   "mark":{"type":"line","strokeWidth":2,"strokeDash":[6,3],"interpolate":"monotone","clip":true},
   "encoding":{
    "x":{"field":"x","type":"quantitative","scale":{"domain":[0,0.419],"nice":false,"zero":false},"axis":{"orient":"bottom","title":"Δ (degrees)","values":[0,0.1,0.2,0.3,0.4],"format":"~g"}},
    "y":{"field":"y","type":"quantitative","scale":{"domain":[0,22170],"nice":false},"axis":{"orient":"left","title":"A","values":[0,5000,10000,15000,20000],"format":"d","titleFontSize":16,"titleX":-32.8,"titleY":89}},
    "color":{"field":"c","type":"nominal","scale":{"range":["#3344ee"]},"legend":{"orient":"none","legendX":95.2,"legendY":7.2,"symbolType":"stroke","symbolSize":1600,"symbolStrokeWidth":2,"symbolDash":[6,3],"labelOffset":8.5}}}},
  {"data":{"values":[
   {"x":0.02,"y":5550,"s":"Data 1"},{"x":0.04,"y":9540,"s":"Data 1"},{"x":0.08,"y":16170,"s":"Data 1"},{"x":0.12,"y":17410,"s":"Data 1"},{"x":0.16,"y":16280,"s":"Data 1"},{"x":0.2,"y":14390,"s":"Data 1"},{"x":0.24,"y":12940,"s":"Data 1"},{"x":0.28,"y":11480,"s":"Data 1"},{"x":0.32,"y":10400,"s":"Data 1"},{"x":0.36,"y":9330,"s":"Data 1"},{"x":0.4,"y":8630,"s":"Data 1"},
   {"x":0.02,"y":5550,"s":"Data 2"},{"x":0.04,"y":9870,"s":"Data 2"},{"x":0.08,"y":16600,"s":"Data 2"},{"x":0.12,"y":17410,"s":"Data 2"},{"x":0.16,"y":16200,"s":"Data 2"},{"x":0.2,"y":14390,"s":"Data 2"},{"x":0.24,"y":12940,"s":"Data 2"},{"x":0.28,"y":11480,"s":"Data 2"},{"x":0.32,"y":10400,"s":"Data 2"},{"x":0.36,"y":9330,"s":"Data 2"},{"x":0.4,"y":8700,"s":"Data 2"},
   {"x":0.02,"y":6310,"s":"Data 3"},{"x":0.04,"y":10780,"s":"Data 3"},{"x":0.08,"y":16330,"s":"Data 3"},{"x":0.12,"y":17410,"s":"Data 3"},{"x":0.16,"y":16010,"s":"Data 3"},{"x":0.2,"y":14390,"s":"Data 3"},{"x":0.24,"y":12940,"s":"Data 3"},{"x":0.28,"y":11480,"s":"Data 3"},{"x":0.32,"y":10400,"s":"Data 3"},{"x":0.36,"y":9330,"s":"Data 3"},{"x":0.4,"y":8630,"s":"Data 3"}]},
   "mark":{"type":"point","filled":true,"size":45,"opacity":1},
   "encoding":{
    "y":{"field":"y","type":"quantitative","scale":{"domain":[0,22170],"nice":false},"axis":{"orient":"left","title":"w","labels":false,"ticks":false,"domain":false,"titleFontSize":8.5,"titleX":-32.3,"titleY":75.5}},
    "color":{"field":"s","type":"nominal","scale":{"domain":["Data 1","Data 2","Data 3"],"range":["#3c50f0","#dd1a1a","#30c030"]},"legend":{"orient":"none","legendX":113.2,"legendY":17.8,"symbolSize":40,"symbolStrokeWidth":0,"labelOffset":23.5,"rowPadding":2.7}},
    "shape":{"field":"s","type":"nominal","scale":{"domain":["Data 1","Data 2","Data 3"],"range":["circle","triangle-up","square"]},"legend":{"orient":"none","legendX":113.2,"legendY":17.8,"symbolSize":40,"symbolStrokeWidth":0,"labelOffset":23.5,"rowPadding":2.7}}}},
  {"data":{"values":[{"x":0.102,"y":18600}]},"mark":{"type":"point","shape":"circle","filled":false,"stroke":"black","strokeWidth":1.5,"size":50,"opacity":1},
   "encoding":{"y":{"field":"y","type":"quantitative","scale":{"domain":[0,22170],"nice":false},"axis":{"orient":"left","title":"Vmod","labels":false,"ticks":false,"domain":false,"titleFontSize":8.8,"titleX":-38.8,"titleY":67.5}}}},
  {"data":{"values":[{"x":0.102,"y":17950,"y2":14560}]},"mark":{"type":"rule","stroke":"black","strokeWidth":1.3},
   "encoding":{
    "x":{"field":"x","type":"quantitative","scale":{"domain":[0,0.419],"nice":false,"zero":false},"axis":{"orient":"bottom","values":[0.05,0.15,0.25,0.35],"labels":false,"title":null,"domain":false,"tickSize":-2}},
    "y":{"field":"y","type":"quantitative","scale":{"domain":[0,22170],"nice":false},"axis":{"orient":"right","values":[0,5000,10000,15000,20000],"labels":false,"title":null,"domain":false,"tickSize":-4}},"y2":{"field":"y2"}}},
  {"data":{"values":[{"x":0.102,"y":14560}]},"mark":{"type":"point","shape":"triangle-down","filled":true,"color":"black","size":30,"opacity":1},
   "encoding":{
    "x":{"field":"x","type":"quantitative","scale":{"domain":[0,0.419],"nice":false,"zero":false},"axis":{"orient":"top","values":[0,0.1,0.2,0.3,0.4],"labels":false,"title":null,"domain":false,"tickSize":-4}},
    "y":{"field":"y","type":"quantitative","scale":{"domain":[0,22170],"nice":false},"axis":{"orient":"right","values":[2500,7500,12500,17500],"labels":false,"title":null,"domain":false,"tickSize":-2}}}},
  {"data":{"values":[{"x":0.12,"y":12880,"t":"Optimum"}]},"mark":{"type":"text","fontWeight":"bold","fontSize":11,"baseline":"middle"},
   "encoding":{
    "x":{"field":"x","type":"quantitative","scale":{"domain":[0,0.419],"nice":false,"zero":false},"axis":{"orient":"top","values":[0.05,0.15,0.25,0.35],"labels":false,"title":null,"domain":false,"tickSize":-2}},
    "y":{"field":"y","type":"quantitative","scale":{"domain":[0,22170],"nice":false},"axis":{"orient":"left","values":[2500,7500,12500,17500],"labels":false,"title":null,"domain":false,"tickSize":-2}},"text":{"field":"t"}}},
  {"data":{"values":[{"x":0.0116,"y":20110,"t":"(f)"}]},"mark":{"type":"text","fontWeight":"bold","fontSize":17,"align":"left","baseline":"middle"},"encoding":{"y":{"field":"y","type":"quantitative","scale":{"domain":[0,22170],"nice":false},"axis":null},"text":{"field":"t"}}}
 ],
 "resolve":{"scale":{"color":"independent","shape":"independent"},"axis":{"x":"independent","y":"independent"}}
}
]
}
